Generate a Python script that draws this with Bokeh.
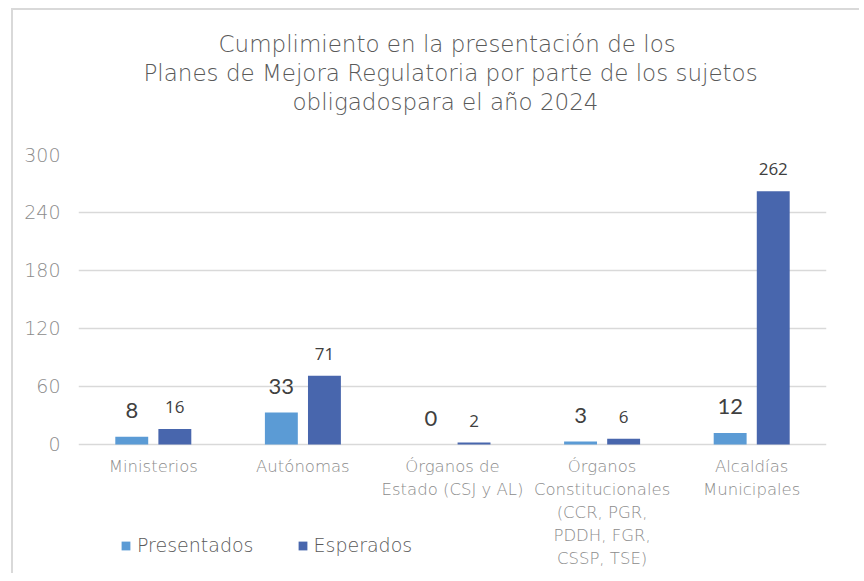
from bokeh.plotting import figure
from bokeh.models import FactorRange, Title, Legend, LegendItem, ColumnDataSource, FixedTicker
from bokeh.transform import dodge
from bokeh.core.properties import value
from bokeh.embed import file_html
from bokeh.resources import INLINE

categories = ["Ministerios", "Autónomas", "Órganos de\nEstado (CSJ y AL)",
              "Órganos\nConstitucionales\n(CCR, PGR,\nPDDH, FGR,\nCSSP, TSE)",
              "Alcaldías\nMunicipales"]
presentados = [8, 33, 0, 3, 12]
esperados = [16, 71, 2, 6, 262]
y_ticks = [0, 60, 120, 180, 240, 300]
title_lines = ["Cumplimiento en la presentación de los",
               "Planes de Mejora Regulatoria por parte de los sujetos",
               "obligadospara el año 2024"]
title_offsets = [140, 65, 214]

C_PRES = "#5B9BD5"
C_ESP = "#4866AD"
FONT = "'DejaVu Sans Light', 'DejaVu Sans'"
NUMFONT = "Lato"

src = ColumnDataSource(dict(cat=categories, pres=presentados, esp=esperados,
                            zero=[0] * len(categories),
                            pres_t=[str(v) for v in presentados],
                            esp_t=[str(v) for v in esperados]))

p = figure(x_range=FactorRange(factors=categories), y_range=(-133.45, 300),
           width=848, height=565, output_backend="svg", toolbar_location=None,
           x_axis_location=None,
           min_border_left=67, min_border_right=33, min_border_top=146, min_border_bottom=0)
p.styles = {"margin-left": "11px", "margin-top": "8px",
            "box-shadow": "inset 2px 2px 0 0 #D9D9D9"}
p.border_fill_color = None
p.outline_line_color = None

# spacer + title lines (closest to the plot first)
p.add_layout(Title(text=" ", text_font_size="33px", standoff=0), "above")
for line, off in reversed(list(zip(title_lines, title_offsets))):
    p.add_layout(Title(text=line, align="left", text_font=FONT, text_font_size="23px",
                       text_font_style="normal", text_color="#595959", standoff=1,
                       offset=off), "above")

r1 = p.vbar(x=dodge("cat", -0.144, range=p.x_range), top="pres", width=0.22,
            source=src, fill_color=C_PRES, line_color=None)
r2 = p.vbar(x=dodge("cat", 0.144, range=p.x_range), top="esp", width=0.22,
            source=src, fill_color=C_ESP, line_color=None)

p.text(x=dodge("cat", -0.144, range=p.x_range), y="pres", text="pres_t", source=src,
       text_align="center", text_baseline="alphabetic", y_offset=-26,
       text_font=value(NUMFONT), text_font_size="22px", text_color="#404040")
p.text(x=dodge("cat", 0.144, range=p.x_range), y="esp", text="esp_t", source=src,
       text_align="center", text_baseline="alphabetic", y_offset=-22,
       text_font=value("Open Sans"), text_font_size="17px", text_color="#404040")

# category labels under the zero line
p.text(x="cat", y="zero", text="cat", source=src, text_align="center",
       text_baseline="top", y_offset=13, text_line_height=1.2,
       text_font=value(FONT), text_font_size="16.5px", text_color="#8C8C8C")

p.xgrid.grid_line_color = None
p.ygrid.grid_line_color = "#D9D9D9"
p.ygrid.grid_line_width = 1.5
p.yaxis.ticker = FixedTicker(ticks=y_ticks)
p.yaxis.axis_line_color = None
p.yaxis.major_tick_line_color = None
p.yaxis.minor_tick_line_color = None
p.yaxis.major_label_standoff = 12
p.yaxis.major_label_text_font = FONT
p.yaxis.major_label_text_font_size = "19px"
p.yaxis.major_label_text_color = "#8C8C8C"

legend = Legend(items=[LegendItem(label="Presentados", renderers=[r1]),
                       LegendItem(label="Esperados", renderers=[r2])],
                orientation="horizontal", location=(42, 17),
                glyph_width=11, glyph_height=11, label_standoff=6, spacing=43,
                padding=0, margin=0, border_line_color=None, background_fill_alpha=0,
                label_text_font=FONT, label_text_font_size="19px", label_text_color="#595959")
p.add_layout(legend, "center")

open("out.html", "w").write(file_html(p, INLINE))
